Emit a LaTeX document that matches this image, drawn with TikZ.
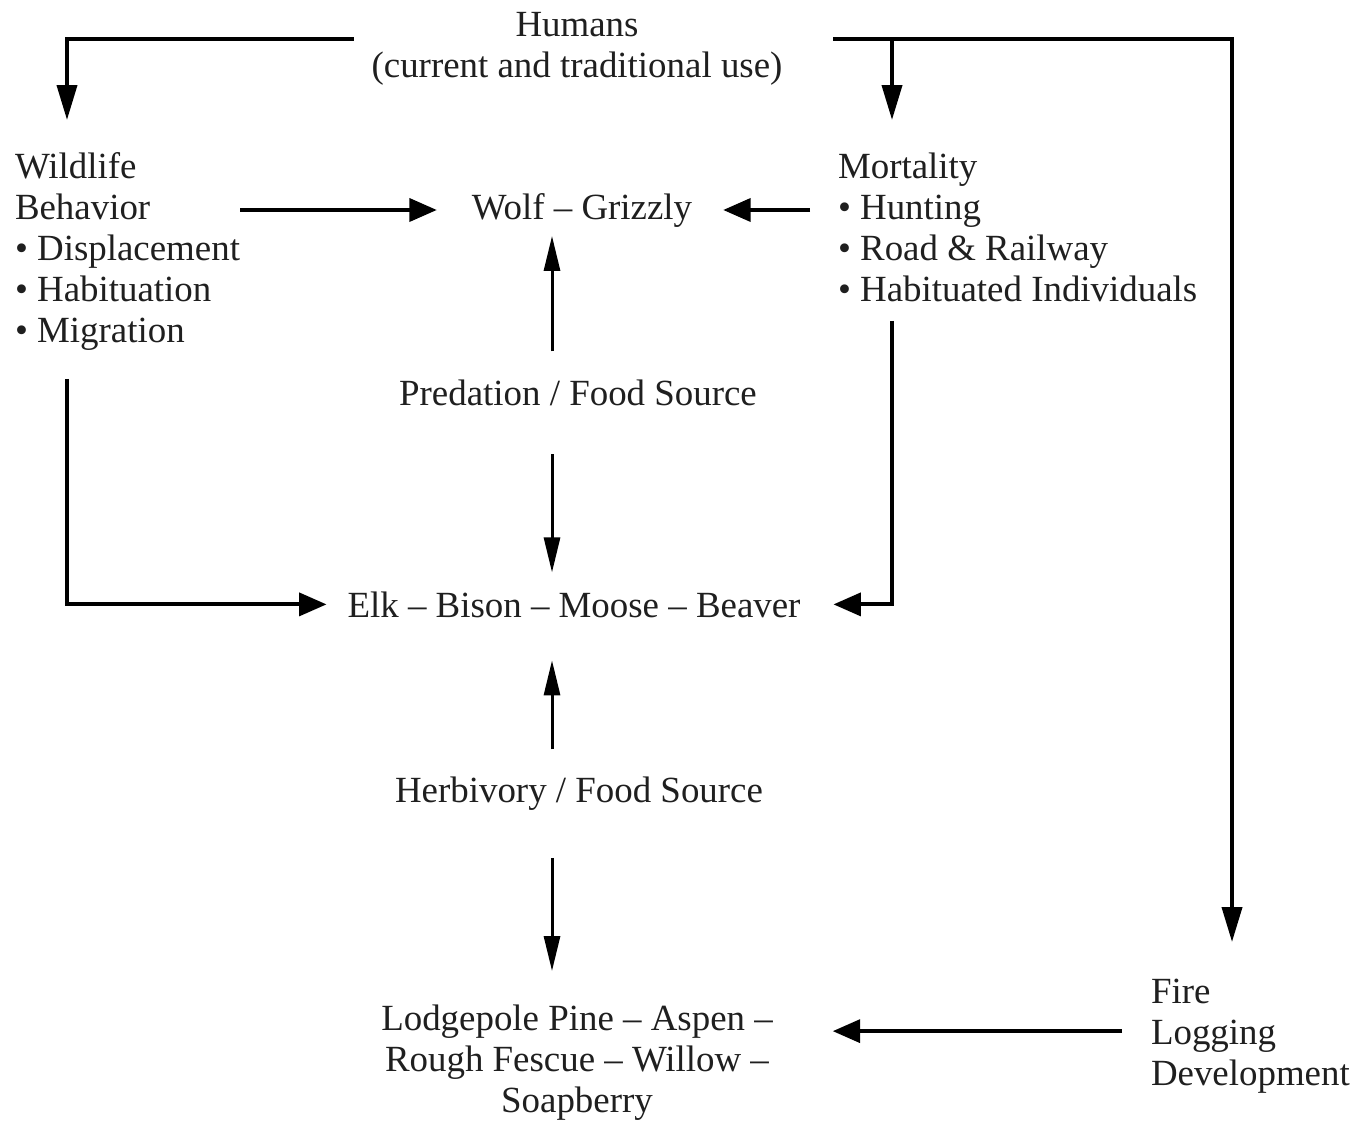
\documentclass[tikz,border=0pt]{standalone}
\usepackage{fontspec}
\setmainfont{Liberation Serif}
\usetikzlibrary{positioning}
\usetikzlibrary{calc}
\usetikzlibrary{arrows.meta}

\begin{document}
\begin{tikzpicture}[x=0.02cm, y=-0.02cm,
        term/.style={inner sep=0pt, outer sep=0pt, text=black!88, font=\fontsize{21}{23.33}\selectfont},
        hlink/.style={line width=2.2pt, -{Triangle[length=0.55cm, width=0.46cm]}},
        vlink/.style={line width=2.2pt, -{Triangle[length=0.7cm, width=0.4cm]}},
        clink/.style={line width=1.7pt, -{Triangle[length=0.7cm, width=0.32cm]}}]
        \useasboundingbox (0,0) rectangle (1361,1122);

        \node[term, align=center] (humans) at (577,49) {Humans\\(current and traditional use)};
        \node[term, align=left, anchor=north west] (wildlife) at (15,153) {Wildlife\\Behavior\\\textbullet~Displacement\\\textbullet~Habituation\\\textbullet~Migration};
        \node[term, align=left, anchor=north west] (mortality) at (838,153) {Mortality\\\textbullet~Hunting\\\textbullet~Road \& Railway\\\textbullet~Habituated Individuals};
        \node[term, anchor=base] (wolf) at (582,219) {Wolf – Grizzly};
        \node[term, anchor=base] (predation) at (578,405) {Predation / Food Source};
        \node[term, anchor=base] (elk) at (574,617) {Elk – Bison – Moose – Beaver};
        \node[term, anchor=base] (herbivory) at (579,802) {Herbivory / Food Source};
        \node[term, align=center, anchor=north] (plants) at (577,1005) {Lodgepole Pine – Aspen –\\Rough Fescue – Willow –\\Soapberry};
        \node[term, align=left, anchor=north west] (fire) at (1151,979) {Fire\\Logging\\Development};

        \coordinate (axis) at (552,0);
        \coordinate (hL) at ($(humans.west)+(-18,-10)$);
        \coordinate (hR) at ($(humans.east)+(51,-10)$);
        \coordinate (mtip) at ($(mortality.north west)+(54,-33)$);

        \draw[vlink] (hL) -| ($(wildlife.north west)+(52,-33)$);
        \draw[vlink] (hR) -| ($(fire.north west)+(81,-37)$);
        \draw[vlink] (mtip |- hR) -- (mtip);

        \draw[hlink, shorten >=0.7cm] (wildlife.east |- wolf) -- (wolf.west);
        \draw[hlink, shorten <=0.56cm, shorten >=0.62cm] (mortality.west |- wolf) -- (wolf.east);

        \draw[clink, shorten <=0.56cm, shorten >=0.18cm] (axis |- predation.north) -- (axis |- wolf.south);
        \draw[clink, shorten <=0.98cm, shorten >=0.38cm] (axis |- predation.south) -- (axis |- elk.north);
        \draw[clink, shorten <=0.54cm, shorten >=0.86cm] (axis |- herbivory.north) -- (axis |- elk.south);
        \draw[clink, shorten <=0.96cm, shorten >=0.68cm] (axis |- herbivory.south) -- (axis |- plants.north);

        \draw[hlink, shorten >=0.42cm] ($(wildlife.south west)+(52,28)$) |- (elk.west);
        \draw[hlink, shorten >=0.66cm] ($(mortality.south west)+(54,19)$) |- (elk.east);
        \draw[hlink] ($(fire.west)+(-29,-5)$) -- ($(fire.west -| plants.east)+(60,-5)$);

    \end{tikzpicture}
\end{document}
